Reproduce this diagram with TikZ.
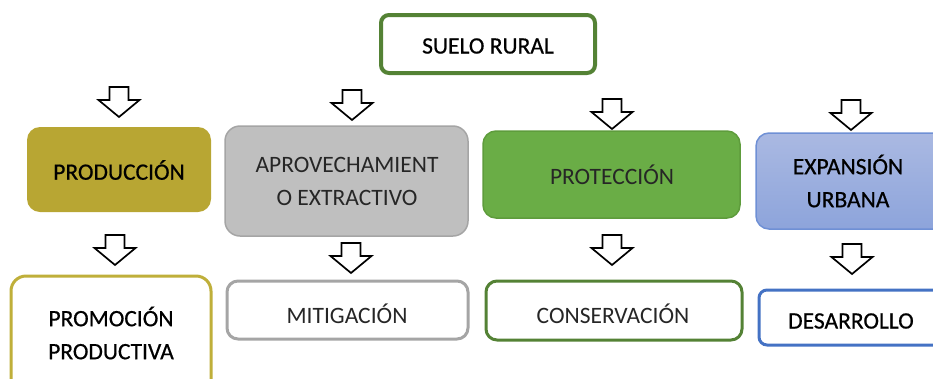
\documentclass[tikz,border=0pt]{standalone}
\usepackage{fontspec}
\setmainfont{Carlito}
\newfontfamily\heavyfont[FakeBold=0.6]{Carlito}
\begin{document}
\begin{tikzpicture}[x=1pt,y=-1pt,
  lbl/.style={font=\fontsize{23.5}{33}\selectfont, text=black, align=center, inner sep=0pt},
  hlbl/.style={lbl, font=\fontsize{23.5}{33}\selectfont\heavyfont},
  slbl/.style={lbl, text=black!85},
  filledbox/.style={rounded corners=13pt, line width=1.5pt},
  outlinebox/.style={rounded corners=11pt, line width=3pt, fill=white},
  downarrow/.pic={\draw[line width=1.7pt, fill=white, line join=miter]
     (-9.5,0) -- (9.5,0) -- (9.5,13) -- (20.5,13) -- (0,30) -- (-20.5,13) -- (-9.5,13) -- cycle;}
]
\definecolor{cgreen}{HTML}{548235}
\definecolor{colive}{HTML}{B8A633}
\definecolor{colivebord}{HTML}{BFAF3A}
\definecolor{cgray}{HTML}{BFBFBF}
\definecolor{cgraybord}{HTML}{A5A5A5}
\definecolor{cprot}{HTML}{6AAD46}
\definecolor{cprotbord}{HTML}{5E9C3C}
\definecolor{cbluetop}{HTML}{AAB9E2}
\definecolor{cbluebot}{HTML}{8DA4DB}
\definecolor{cbluebord}{HTML}{6F90D5}
\definecolor{cblue}{HTML}{4472C4}
\useasboundingbox (0,0) rectangle (933,378);
\clip (0,0) rectangle (933,378);

% top box
\draw[line width=4pt, cgreen, rounded corners=8pt, fill=white] (381,15) rectangle (595,73);
\node[hlbl] (suelo) at (488,46) {SUELO RURAL};

% middle row
\fill[colive, rounded corners=13pt] (27,127) rectangle (211,212);
\node[hlbl] (prod) at (119,170) {PRODUCCIÓN};

\draw[filledbox, draw=cgraybord, fill=cgray, rounded corners=15pt] (225,126) rectangle (468,236);
\node[slbl] (aprov) at (347,181) {APROVECHAMIENT\\O EXTRACTIVO};

\draw[filledbox, draw=cprotbord, fill=cprot] (483,131) rectangle (740,218);
\node[slbl] (prot) at (612,175) {PROTECCIÓN};

\draw[filledbox, draw=cbluebord, top color=cbluetop, bottom color=cbluebot] (756,133) rectangle (960,229);
\node[hlbl] (expan) at (848,181) {EXPANSIÓN\\URBANA};

% bottom row
\draw[outlinebox, draw=colivebord, rounded corners=15pt] (11,276) rectangle (211,400);
\node[hlbl] (promo) at (111,333) {PROMOCIÓN\\PRODUCTIVA};

\draw[outlinebox, draw=cgraybord] (227,281) rectangle (468,339);
\node[slbl] (miti) at (347,314) {MITIGACIÓN};

\draw[outlinebox, draw=cgreen] (486,281) rectangle (742,340);
\node[slbl] (cons) at (613,314) {CONSERVACIÓN};

\draw[outlinebox, draw=cblue, rounded corners=8pt] (759,290) rectangle (960,345);
\node[hlbl] (desa) at (851,321) {DESARROLLO};

% arrows
\pic at (119,87) {downarrow};
\pic at (352,90) {downarrow};
\pic at (612,99) {downarrow};
\pic at (851,100) {downarrow};
\pic at (115,235) {downarrow};
\pic at (351,243) {downarrow};
\pic at (612,235) {downarrow};
\pic at (852,244) {downarrow};
\end{tikzpicture}
\end{document}
